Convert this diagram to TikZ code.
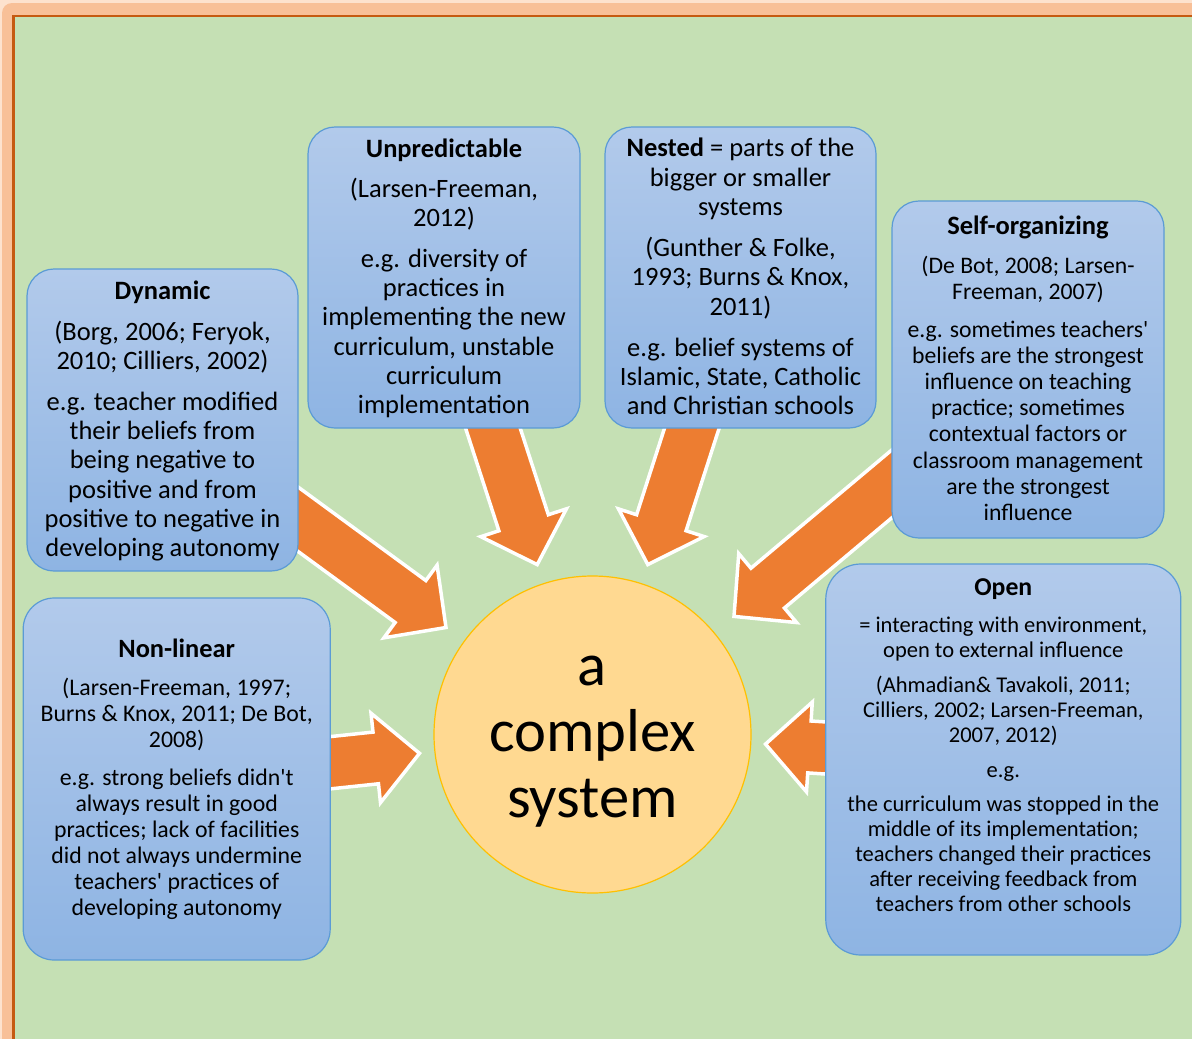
\documentclass[tikz,border=0pt]{standalone}
\usepackage{fontspec}
\setmainfont{Carlito}[Ligatures=TeXOff]
\usetikzlibrary{calc}
\pgfdeclarelayer{bg}
\pgfdeclarelayer{arr}
\pgfsetlayers{bg,arr,main}
\definecolor{bggreen}{RGB}{197,224,180}
\definecolor{glowA}{RGB}{253,226,206}
\definecolor{glowB}{RGB}{248,192,152}
\definecolor{frameline}{RGB}{197,90,17}
\definecolor{boxtop}{RGB}{178,202,235}
\definecolor{boxbot}{RGB}{142,180,227}
\definecolor{boxline}{RGB}{91,155,213}
\definecolor{arrfill}{RGB}{237,125,49}
\definecolor{circfill}{RGB}{255,217,145}
\definecolor{circline}{RGB}{255,192,0}
\newcommand\firststrut{\rule{0pt}{30pt}}
\newcommand\blockarr[3]{%
  \coordinate (#3n) at ($(#2)!44pt!(#1)$);
  \filldraw[blockarrow] ($(#1)!26pt!90:(#2)$) -- ($(#3n)!26pt!90:(#2)$) -- ($(#3n)!45pt!90:(#2)$) -- (#2)
    -- ($(#3n)!45pt!-90:(#2)$) -- ($(#3n)!26pt!-90:(#2)$) -- ($(#1)!26pt!-90:(#2)$) -- cycle;
}
\tikzset{
  box/.style={rectangle, draw=boxline, line width=1.2pt, top color=boxtop, bottom color=boxbot, inner sep=0pt},
  txt/.style={anchor=north, inner sep=0pt, align=center, text=black},
  blockarrow/.style={fill=arrfill, draw=white, line width=3.5pt, line join=miter, miter limit=10},
}
\begin{document}
\begin{tikzpicture}[x=1pt,y=-1pt]
\useasboundingbox (0,0) rectangle (1192,1039);

% boxes
\node[box, minimum width=271pt, minimum height=302pt, rounded corners=27pt] (dyn) at (162.5,420) {};
\node[box, minimum width=272pt, minimum height=301pt, rounded corners=27pt] (unp) at (444,277.5) {};
\node[box, minimum width=271pt, minimum height=301pt, rounded corners=27pt] (nes) at (740.5,277.5) {};
\node[box, minimum width=272pt, minimum height=337pt, rounded corners=27pt] (slf) at (1028,369.5) {};
\node[box, minimum width=307pt, minimum height=362pt, rounded corners=31pt] (non) at (176.7,779) {};
\node[box, minimum width=355pt, minimum height=391pt, rounded corners=35pt] (opn) at (1003.3,759.5) {};
\node[circle, draw=circline, fill=circfill, line width=1.2pt, minimum size=317pt, inner sep=0pt] (sys) at (592.5,734.5) {};

% texts
\node[txt, font=\fontsize{26.5}{29.3}\selectfont] (dynT) at (162.5,269) {\firststrut\textbf{Dynamic}\\[11.7pt]
(Borg, 2006; Feryok,\\ 2010; Cilliers, 2002)\\[11.4pt]
e.g. teacher modified\\ their beliefs from\\ being negative to\\ positive and from\\ positive to negative in\\ developing autonomy};

\node[txt, font=\fontsize{26.5}{29.3}\selectfont] (unpT) at (444,127) {\firststrut\textbf{Unpredictable}\\[10.7pt]
(Larsen-Freeman,\\ 2012)\\[11.4pt]
e.g. diversity of\\ practices in\\ implementing the new\\ curriculum, unstable\\ curriculum\\ implementation};

\node[txt, font=\fontsize{26.5}{29.3}\selectfont] (nesT) at (740.5,126.7) {\firststrut\textbf{Nested} = parts of the\\ bigger or smaller\\ systems\\[11.7pt]
(Gunther \& Folke,\\ 1993; Burns \& Knox,\\ 2011)\\[11.7pt]
e.g. belief systems of\\ Islamic, State, Catholic\\ and Christian schools};

\node[txt, font=\fontsize{23.7}{26.15}\selectfont] (slfT) at (1028,204) {\firststrut{\fontsize{26.5}{26.15}\selectfont\bfseries Self-organizing}\\[12.85pt]
(De Bot, 2008; Larsen-\\ Freeman, 2007)\\[11.85pt]
e.g. sometimes teachers'\\ beliefs are the strongest\\ influence on teaching\\ practice; sometimes\\ contextual factors or\\ classroom management\\ are the strongest\\ influence};

\node[txt, font=\fontsize{23.8}{26}\selectfont] (nonT) at (176.7,627.7) {\firststrut{\fontsize{26.4}{26}\selectfont\bfseries Non-linear}\\[12pt]
(Larsen-Freeman, 1997;\\ Burns \& Knox, 2011; De Bot,\\ 2008)\\[11.3pt]
e.g. strong beliefs didn't\\ always result in good\\ practices; lack of facilities\\ did not always undermine\\ teachers' practices of\\ developing autonomy};

\node[txt, font=\fontsize{22.5}{25}\selectfont] (opnT) at (1003.3,565.7) {\firststrut{\fontsize{25.7}{25}\selectfont\bfseries Open}\\[12pt]
= interacting with environment,\\ open to external influence\\[10pt]
(Ahmadian\& Tavakoli, 2011;\\ Cilliers, 2002; Larsen-Freeman,\\ 2007, 2012)\\[10pt]
e.g.\\[8.4pt]
the curriculum was stopped in the\\ middle of its implementation;\\ teachers changed their practices\\ after receiving feedback from\\ teachers from other schools};

\node[txt, font=\fontsize{60.6}{66}\selectfont] (sysT) at (592.5,625) {\rule{0pt}{60pt}a\\ complex\\ system};

% arrow tips
\coordinate (tDyn) at (446,627.5);
\coordinate (tUnp) at (537.2,564.6);
\coordinate (tNes) at (647.8,564.6);
\coordinate (tSlf) at (734,616.4);
\coordinate (tNon) at (419.5,753.3);
\coordinate (tOpn) at (765.5,744.1);

\begin{pgfonlayer}{arr}
\blockarr{dyn.center}{tDyn}{aDyn}
\blockarr{unp.center}{tUnp}{aUnp}
\blockarr{nes.center}{tNes}{aNes}
\blockarr{slf.center}{tSlf}{aSlf}
\blockarr{non.center}{tNon}{aNon}
\blockarr{opn.center}{tOpn}{aOpn}
\end{pgfonlayer}

\begin{pgfonlayer}{bg}
\fill[glowA] (0,0) rectangle (1192,1039);
\fill[glowB, rounded corners=10pt] (2,3) rectangle (1240,1090);
\fill[bggreen] (13.5,16) rectangle (1192,1039);
\draw[frameline, line width=2.5pt] (13.5,1039) -- (13.5,16) -- (1192,16);
\end{pgfonlayer}
\end{tikzpicture}
\end{document}
